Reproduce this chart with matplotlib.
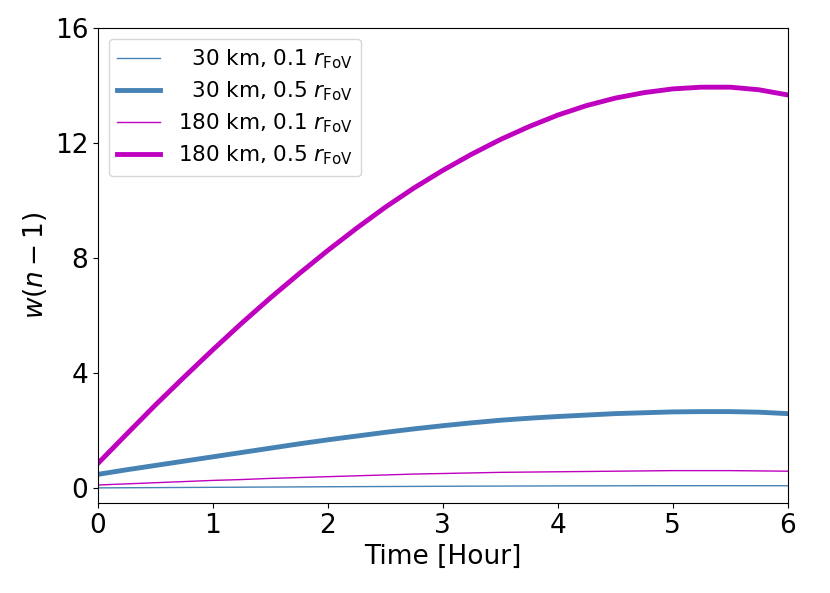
import matplotlib
matplotlib.use("Agg")
import matplotlib.pyplot as plt

time_h = [0.0, 0.25, 0.5, 0.75, 1.0, 1.25, 1.5, 1.75, 2.0, 2.25, 2.5, 2.75, 3.0,
          3.25, 3.5, 3.75, 4.0, 4.25, 4.5, 4.75, 5.0, 5.25, 5.5, 5.75, 6.0]
w_30_01 = [0.020, 0.025, 0.030, 0.035, 0.040, 0.045, 0.050, 0.055, 0.060, 0.064,
           0.068, 0.072, 0.076, 0.080, 0.083, 0.086, 0.089, 0.091, 0.093, 0.095,
           0.096, 0.097, 0.097, 0.096, 0.095]
w_30_05 = [0.49, 0.65, 0.80, 0.95, 1.10, 1.25, 1.40, 1.55, 1.69, 1.82, 1.95, 2.07,
           2.18, 2.28, 2.37, 2.44, 2.50, 2.55, 2.60, 2.63, 2.66, 2.67, 2.67, 2.65, 2.60]
w_180_01 = [0.12, 0.16, 0.20, 0.24, 0.28, 0.31, 0.35, 0.38, 0.41, 0.44, 0.47, 0.50,
            0.52, 0.54, 0.56, 0.57, 0.58, 0.59, 0.60, 0.61, 0.62, 0.62, 0.62, 0.61, 0.60]
w_180_05 = [0.87, 1.89, 2.90, 3.87, 4.82, 5.74, 6.62, 7.46, 8.27, 9.04, 9.77, 10.44,
            11.05, 11.61, 12.12, 12.57, 12.97, 13.30, 13.56, 13.75, 13.88, 13.94,
            13.94, 13.85, 13.67]

labels = [r'  30 km, 0.1 $r_{\rm FoV}$', r'  30 km, 0.5 $r_{\rm FoV}$',
          r'180 km, 0.1 $r_{\rm FoV}$', r'180 km, 0.5 $r_{\rm FoV}$']
yticks = [0, 4, 8, 12, 16]
xticks = [0, 1, 2, 3, 4, 5, 6]

fig = plt.figure(figsize=(8.3, 5.93), dpi=100)
ax = fig.add_axes([0.118, 0.152, 0.831, 0.801])
ax.plot(time_h, w_30_01, color='steelblue', lw=1.0, label=labels[0])
ax.plot(time_h, w_30_05, color='steelblue', lw=3.5, label=labels[1])
ax.plot(time_h, w_180_01, color='m', lw=1.0, label=labels[2])
ax.plot(time_h, w_180_05, color='m', lw=3.5, label=labels[3])
ax.set_xlim(0, 6)
ax.set_ylim(-0.5, 16)
ax.set_xticks(xticks)
ax.set_yticks(yticks)
ax.tick_params(labelsize=19)
ax.set_xlabel('Time [Hour]', fontsize=19)
ax.set_ylabel(r'$w(n-1)$', fontsize=19)
ax.legend(loc='upper left', fontsize=15.5, labelspacing=0.4,
          bbox_to_anchor=(0.0, 1.0), borderaxespad=0.5)
fig.savefig('out.png', dpi=100)
